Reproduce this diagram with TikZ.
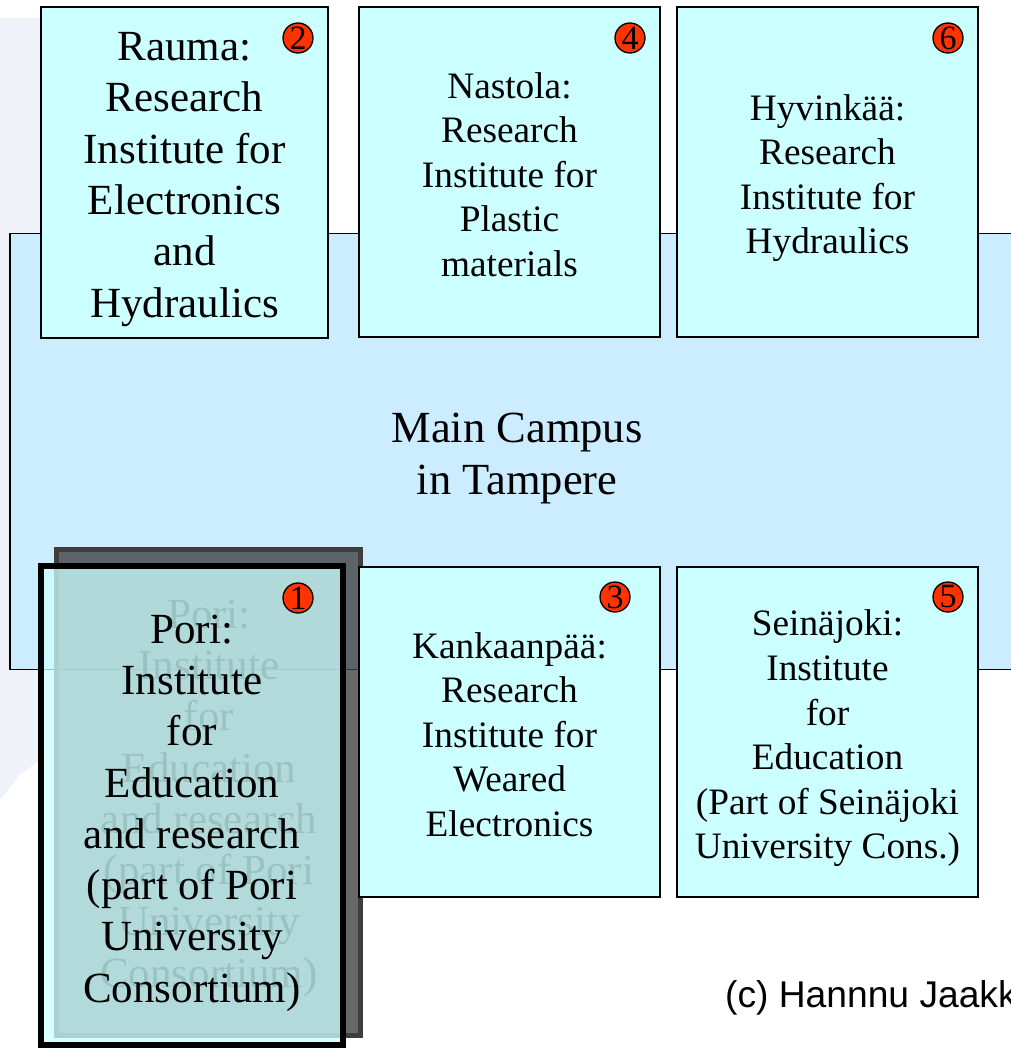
\documentclass[tikz,border=0pt]{standalone}
\usepackage{fontspec}
\setmainfont{Liberation Serif}
\newfontfamily\arialf{Liberation Sans}
\definecolor{mainblue}{RGB}{204,236,255}
\definecolor{boxcyan}{RGB}{204,255,255}
\definecolor{numred}{RGB}{255,51,0}
\definecolor{wmark}{RGB}{240,242,250}
\definecolor{shadowgray}{RGB}{62,62,62}
\begin{document}
\begin{tikzpicture}[x=1pt,y=-1pt,
  instbox/.style={draw=black,line width=2.2pt,fill=boxcyan,inner sep=0pt,
     minimum width=#1},
  instbox/.default=301,
  smalltext/.style={align=center,font=\fontsize{37.3}{44.6}\selectfont},
  bigtext/.style={align=center,font=\fontsize{43}{51.3}\selectfont},
  numdot/.style={circle,draw=black,line width=1.3pt,fill=numred,inner sep=0pt,
     minimum size=30,font=\fontsize{34}{34}\selectfont},
]
\useasboundingbox (0,0) rectangle (1011,1049);
\clip (0,0) rectangle (1011,1049);
% faint watermark
\fill[wmark] (0,18) -- (40,18) -- (40,760) -- (20,775) -- (0,800) -- cycle;
% main campus
\node[draw=black,line width=1.8pt,fill=mainblue,minimum width=1030,minimum height=436,inner sep=0pt]
  (main) at (525,451.5) {};
\node[align=center,font=\fontsize{44.5}{52}\selectfont] (maintxt) at (517,458) {Main Campus\\in Tampere};
% top boxes
\node[instbox=287,minimum height=331] (rauma) at (184.5,172.5) {};
\node[bigtext] (raumaTxt) at (184.5,179.5)
  {Rauma:\\Research\\Institute for\\Electronics\\and\\Hydraulics};
\node[instbox,minimum height=330] (nastola) at (509.5,172) {};
\node[smalltext] (nastolaTxt) at (509.5,174.5)
  {Nastola:\\Research\\Institute for\\Plastic\\materials};
\node[instbox,minimum height=330] (hyv) at (827.5,172) {};
\node[smalltext] (hyvTxt) at (827.5,178)
  {Hyvinkää:\\Research\\Institute for\\Hydraulics};
% bottom boxes
\node[instbox,minimum height=330] (seina) at (827.5,732) {};
\node[smalltext] (seinaTxt) at (827.5,738.5)
  {Seinäjoki:\\Institute\\for\\Education\\(Part of Seinäjoki\\University Cons.)};
% Pori shadow and box
\node[draw=shadowgray,line width=5pt,fill=shadowgray,fill opacity=0.78,
  inner sep=0pt,minimum width=304,minimum height=486] (poriShadow) at (208.5,792.5) {};
\node[bigtext,text=black] (poriShadowTxt) at (209,798)
  {Pori:\\Institute\\for\\Education\\and research\\(part of Pori\\University\\Consortium)};
\node[draw=black,line width=6pt,fill=boxcyan,fill opacity=0.76,draw opacity=1,
  inner sep=0pt,minimum width=302,minimum height=479] (pori) at (192,805.5) {};
\node[bigtext] (poritxt) at (192,813)
  {Pori:\\Institute\\ for\\Education\\and research\\(part of Pori\\University\\Consortium)};
\node[instbox,minimum height=330] (kank) at (509.5,732) {};
\node[smalltext] (kankTxt) at (509.5,734.5)
  {Kankaanpää:\\Research\\Institute for\\Weared\\Electronics};
% numbers
\node[numdot] (n2) at (298,38) {2};
\node[numdot] (n4) at (630,38) {4};
\node[numdot] (n6) at (948,38) {6};
\node[numdot] (n1) at (298,598) {1};
\node[numdot] (n3) at (615,597) {3};
\node[numdot] (n5) at (948,597) {5};
% copyright
\node[anchor=base west,inner sep=0pt,font=\arialf\fontsize{37.2}{40}\selectfont] (copy) at (725,1007)
  {(c) Hannnu Jaakkola};
\end{tikzpicture}
\end{document}
